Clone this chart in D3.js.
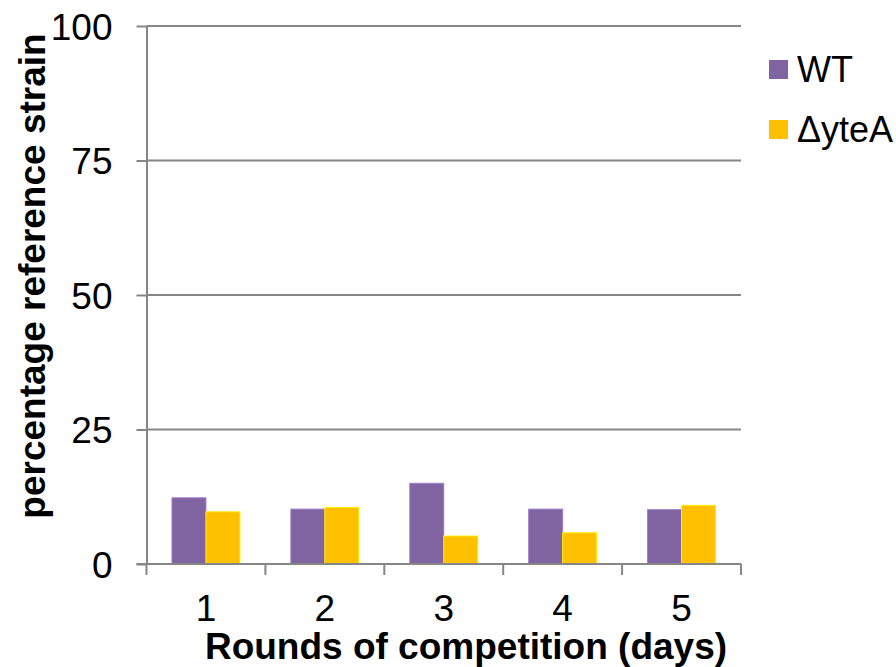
<!DOCTYPE html>
<html>
<head>
<meta charset="utf-8">
<script src="https://cdn.jsdelivr.net/npm/d3@7"></script>
<style>
  body { margin: 0; background: #fff; }
  svg { display: block; font-family: Arial, "Liberation Sans", sans-serif; }
  .axis path, .axis line { stroke: #868686; stroke-width: 2; }
  .grid line { stroke: #868686; stroke-width: 2; }
</style>
</head>
<body>
<svg class="main" width="896" height="667"></svg>
<script>
// chart data
const rounds = ["1", "2", "3", "4", "5"];
const seriesNames = ["WT", "\u0394yteA"];
const wtValues = [12.3, 10.2, 15.0, 10.2, 10.1];
const yteaValues = [9.7, 10.5, 5.2, 5.8, 10.9];
const yTicks = [0, 25, 50, 75, 100];
const colors = ["#8064A2", "#FFC000"];

const layout = { left: 146.5, right: 741, top: 26, bottom: 564 };

const svg = d3.select(".main");

const x = d3.scaleBand()
  .domain(rounds)
  .range([layout.left, layout.right])
  .padding(0);

const xInner = d3.scaleBand()
  .domain(seriesNames)
  .range([0, x.bandwidth()])
  .paddingInner(0)
  .paddingOuter(0.75);

const y = d3.scaleLinear()
  .domain([0, 100])
  .range([layout.bottom, layout.top]);

// gridlines
svg.append("g")
  .attr("class", "grid")
  .selectAll("line")
  .data(yTicks.filter(d => d > 0))
  .join("line")
  .attr("x1", layout.left)
  .attr("x2", layout.right)
  .attr("y1", d => y(d))
  .attr("y2", d => y(d));

// bars
const rows = rounds.map((r, i) => ({ round: r, values: [wtValues[i], yteaValues[i]] }));

const groups = svg.append("g")
  .selectAll("g")
  .data(rows)
  .join("g")
  .attr("transform", d => `translate(${x(d.round)},0)`);

groups.selectAll("rect")
  .data(d => d.values.map((v, j) => ({ name: seriesNames[j], value: v, color: colors[j] })))
  .join("rect")
  .attr("x", d => xInner(d.name))
  .attr("width", xInner.bandwidth())
  .attr("y", d => y(d.value))
  .attr("height", d => y(0) - y(d.value))
  .attr("fill", d => d.color)
  .attr("stroke", d => d3.color(d.color).brighter(0.6))
  .attr("stroke-width", 1);

// y axis
const yAxis = svg.append("g")
  .attr("class", "axis")
  .attr("transform", `translate(${layout.left},0)`)
  .call(d3.axisLeft(y).tickValues(yTicks).tickSize(10).tickSizeOuter(0).tickPadding(24));
yAxis.selectAll("text")
  .attr("font-size", 37)
  .attr("fill", "#000")
  .attr("font-family", "Arial, 'Liberation Sans', sans-serif")
  .attr("dy", "0.36em");

// x axis
const xTickPos = d3.range(rounds.length + 1).map(i => layout.left + i * x.step());
const xAxisG = svg.append("g").attr("class", "axis");
xAxisG.append("line")
  .attr("x1", layout.left - 10)
  .attr("x2", layout.right)
  .attr("y1", y(0))
  .attr("y2", y(0));
xAxisG.selectAll(".tick")
  .data(xTickPos)
  .join("line")
  .attr("class", "tick")
  .attr("x1", d => d)
  .attr("x2", d => d)
  .attr("y1", y(0))
  .attr("y2", y(0) + 11);
xAxisG.selectAll("text")
  .data(rounds)
  .join("text")
  .attr("x", d => x(d) + x.bandwidth() / 2)
  .attr("y", 621)
  .attr("text-anchor", "middle")
  .attr("font-size", 37)
  .attr("fill", "#000")
  .text(d => d);

// axis titles
svg.append("text")
  .attr("x", 466)
  .attr("y", 659)
  .attr("text-anchor", "middle")
  .attr("font-size", 37)
  .attr("font-weight", "bold")
  .text("Rounds of competition (days)");

svg.append("text")
  .attr("transform", "translate(45,276) rotate(-90)")
  .attr("text-anchor", "middle")
  .attr("font-size", 37)
  .attr("font-weight", "bold")
  .text("percentage reference strain");

// legend
const legend = svg.append("g")
  .selectAll("g")
  .data(seriesNames)
  .join("g")
  .attr("transform", (d, i) => `translate(769,${60 + i * 60})`);
legend.append("rect")
  .attr("width", 19)
  .attr("height", 19)
  .attr("fill", (d, i) => colors[i]);
legend.append("text")
  .attr("x", 28)
  .attr("y", 22)
  .attr("font-size", 36)
  .attr("fill", "#000")
  .text(d => d);
</script>
</body>
</html>
